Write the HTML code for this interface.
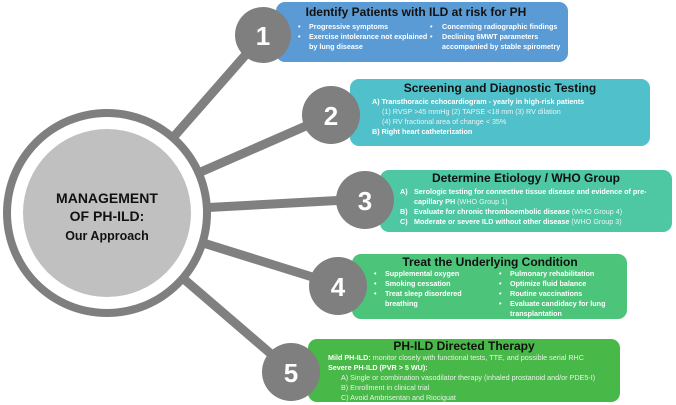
<!DOCTYPE html>
<html><head><meta charset="utf-8"><style>
body{margin:0;background:#fff}
svg{display:block;font-family:"Liberation Sans",sans-serif}
.t{font-weight:bold;font-size:12px;fill:#111;text-anchor:middle}
.b{font-size:7.2px;fill:#fff;font-weight:bold}
.n{font-size:7.2px;fill:#e8f4f4}
.num{font-size:26px;font-weight:bold;fill:#fff;text-anchor:middle}
</style></head><body>
<svg width="676" height="405" viewBox="0 0 676 405">
<g stroke="#808080" stroke-width="9" stroke-linecap="round">
<line x1="107" y1="213" x2="263" y2="35"/>
<line x1="107" y1="213" x2="331" y2="115"/>
<line x1="107" y1="213" x2="365" y2="199"/>
<line x1="107" y1="213" x2="338" y2="285"/>
<line x1="107" y1="213" x2="292" y2="372"/>
</g>
<circle cx="107" cy="213" r="104" fill="#7f7f7f"/>
<circle cx="107" cy="213" r="96" fill="#fff"/>
<circle cx="107" cy="213" r="84" fill="#c0c0c0"/>
<text x="107" y="203" class="t" style="font-size:14px">MANAGEMENT</text>
<text x="107" y="221" class="t" style="font-size:14px">OF PH-ILD:</text>
<text x="107" y="240" class="t" style="font-size:12.5px">Our Approach</text>

<rect x="276" y="2" width="292" height="60" rx="9" fill="#5b9bd5"/>
<rect x="350" y="79" width="300" height="67" rx="9" fill="#50c1ca"/>
<rect x="380" y="170" width="292" height="62" rx="9" fill="#4dc8a2"/>
<rect x="352" y="254" width="275" height="65" rx="9" fill="#4cc47a"/>
<rect x="308" y="339" width="312" height="63" rx="9" fill="#48b848"/>

<circle cx="263" cy="35" r="28" fill="#7f7f7f"/><text x="263" y="45" class="num">1</text>
<circle cx="331" cy="115" r="29" fill="#7f7f7f"/><text x="331" y="125" class="num">2</text>
<circle cx="365" cy="200" r="29" fill="#7f7f7f"/><text x="365" y="210" class="num">3</text>
<circle cx="338" cy="286" r="29" fill="#7f7f7f"/><text x="338" y="296" class="num">4</text>
<circle cx="291" cy="372" r="29" fill="#7f7f7f"/><text x="291" y="382" class="num">5</text>

<text x="416" y="16" class="t">Identify Patients with ILD at risk for PH</text>
<g class="b">
<text x="298" y="29">•</text><text x="309" y="29">Progressive symptoms</text>
<text x="298" y="39">•</text><text x="309" y="39">Exercise intolerance not explained</text>
<text x="309" y="49">by lung disease</text>
<text x="430" y="29">•</text><text x="442" y="29">Concerning radiographic findings</text>
<text x="430" y="39">•</text><text x="442" y="39">Declining 6MWT parameters</text>
<text x="442" y="49">accompanied by stable spirometry</text>
</g>

<text x="500" y="92" class="t">Screening and Diagnostic Testing</text>
<text x="372" y="104" class="b">A)   Transthoracic echocardiogram - yearly in high-risk patients</text>
<text x="382" y="114" class="n">(1)   RVSP &gt;45 mmHg    (2) TAPSE &lt;18 mm    (3) RV dilation</text>
<text x="382" y="124" class="n">(4)   RV fractional area of change &lt; 35%</text>
<text x="372" y="134" class="b">B) Right heart catheterization</text>

<text x="526" y="182" class="t">Determine Etiology / WHO Group</text>
<g class="b">
<text x="400" y="194">A)</text><text x="414" y="194">Serologic testing for connective tissue disease and evidence of pre-</text>
<text x="414" y="204">capillary PH <tspan class="n" style="font-weight:normal">(WHO Group 1)</tspan></text>
<text x="400" y="214">B)</text><text x="414" y="214">Evaluate for chronic thromboembolic disease <tspan style="font-weight:normal;fill:#e8f4f4">(WHO Group 4)</tspan></text>
<text x="400" y="224">C)</text><text x="414" y="224">Moderate or severe ILD without other disease <tspan style="font-weight:normal;fill:#e8f4f4">(WHO Group 3)</tspan></text>
</g>

<text x="490" y="266" class="t">Treat the Underlying Condition</text>
<g class="b">
<text x="374" y="276">•</text><text x="385" y="276">Supplemental oxygen</text>
<text x="374" y="286">•</text><text x="385" y="286">Smoking cessation</text>
<text x="374" y="296">•</text><text x="385" y="296">Treat sleep disordered</text>
<text x="385" y="306">breathing</text>
<text x="499" y="276">•</text><text x="510" y="276">Pulmonary rehabilitation</text>
<text x="499" y="286">•</text><text x="510" y="286">Optimize fluid balance</text>
<text x="499" y="296">•</text><text x="510" y="296">Routine vaccinations</text>
<text x="499" y="306">•</text><text x="510" y="306">Evaluate candidacy for lung</text>
<text x="510" y="316">transplantation</text>
</g>

<text x="464" y="350" class="t">PH-ILD Directed Therapy</text>
<text x="328" y="360" class="b">Mild PH-ILD: <tspan style="font-weight:normal;fill:#e8f4e8">monitor closely with functional tests, TTE, and possible serial RHC</tspan></text>
<text x="328" y="370" class="b">Severe PH-ILD (PVR &gt; 5 WU):</text>
<g style="font-size:7.2px;fill:#e8f4e8">
<text x="341" y="380">A) Single or combination vasodilator therapy (inhaled prostanoid and/or PDE5-I)</text>
<text x="341" y="390">B) Enrollment in clinical trial</text>
<text x="341" y="400">C) Avoid Ambrisentan and Riociguat</text>
</g>
</svg>
</body></html>
